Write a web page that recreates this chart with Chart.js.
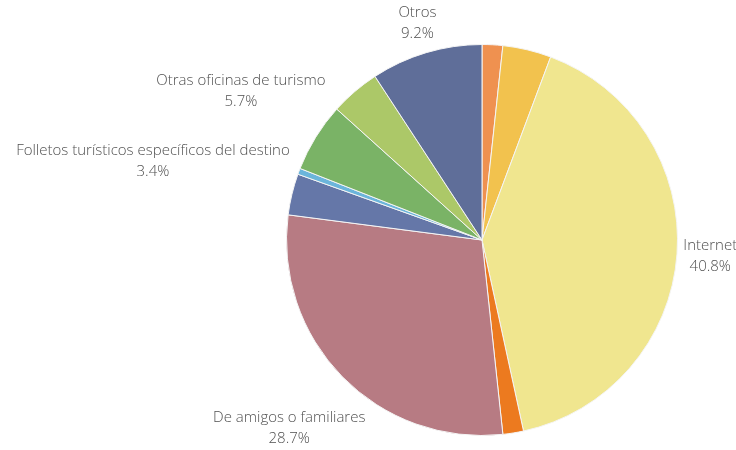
<!DOCTYPE html>
<html>
<head>
<meta charset="utf-8">
<script src="https://cdn.jsdelivr.net/npm/chart.js@4/dist/chart.umd.min.js"></script>
<style>
  html, body { margin: 0; padding: 0; background: #fff; }
  #wrap { width: 736px; height: 450px; }
</style>
</head>
<body>
<div id="wrap"><canvas id="pieChart"></canvas></div>
<script>
// slices clockwise from 12 o'clock; empty name = no label in the original
const categories = ["", "", "Internet", "", "De amigos o familiares",
  "Folletos turísticos específicos del destino", "", "Otras oficinas de turismo", "", "Otros"];
const values = [1.7, 4.0, 40.8, 1.7, 28.7, 3.4, 0.5, 5.7, 4.1, 9.2];
const sliceColors = ["#ef9150", "#f2c24e", "#f0e68f", "#ec7a1f", "#b77b83",
  "#6577a8", "#6bb5db", "#7ab366", "#acc868", "#5f6e99"];

// labels outside the pie, along each slice's mid angle
const outsideLabels = {
  id: "outsideLabels",
  afterDatasetsDraw(chart) {
    const ctx = chart.ctx;
    const meta = chart.getDatasetMeta(0);
    const lineH = 21;
    ctx.save();
    ctx.font = "300 15px 'Open Sans'";
    ctx.fillStyle = "#505050";
    ctx.textAlign = "center";
    ctx.textBaseline = "middle";
    meta.data.forEach((arc, i) => {
      const name = categories[i];
      if (!name) return;
      const lines = [name, values[i].toFixed(1) + "%"];
      const w = Math.max(...lines.map((l) => ctx.measureText(l).width));
      const h = lineH * lines.length;
      const mid = (arc.startAngle + arc.endAngle) / 2;
      const cx = Math.cos(mid), cy = Math.sin(mid);
      const dist = arc.outerRadius + 5 + Math.abs(cx) * w / 2 + Math.abs(cy) * h / 2;
      const x = arc.x + cx * dist;
      const y = arc.y + cy * dist;
      lines.forEach((l, k) => {
        ctx.fillText(l, x, y - h / 2 + lineH / 2 + k * lineH);
      });
    });
    ctx.restore();
  },
};

new Chart(document.getElementById("pieChart").getContext("2d"), {
  type: "pie",
  data: {
    labels: categories,
    datasets: [
      {
        data: values,
        backgroundColor: sliceColors,
        borderColor: "#f4f4f4",
        borderWidth: 1,
      },
    ],
  },
  options: {
    responsive: true,
    maintainAspectRatio: false,
    animation: false,
    layout: { padding: { left: 286, right: 58, top: 44, bottom: 14 } },
    plugins: {
      legend: { display: false },
      tooltip: { enabled: false },
    },
  },
  plugins: [outsideLabels],
});
</script>
</body>
</html>
